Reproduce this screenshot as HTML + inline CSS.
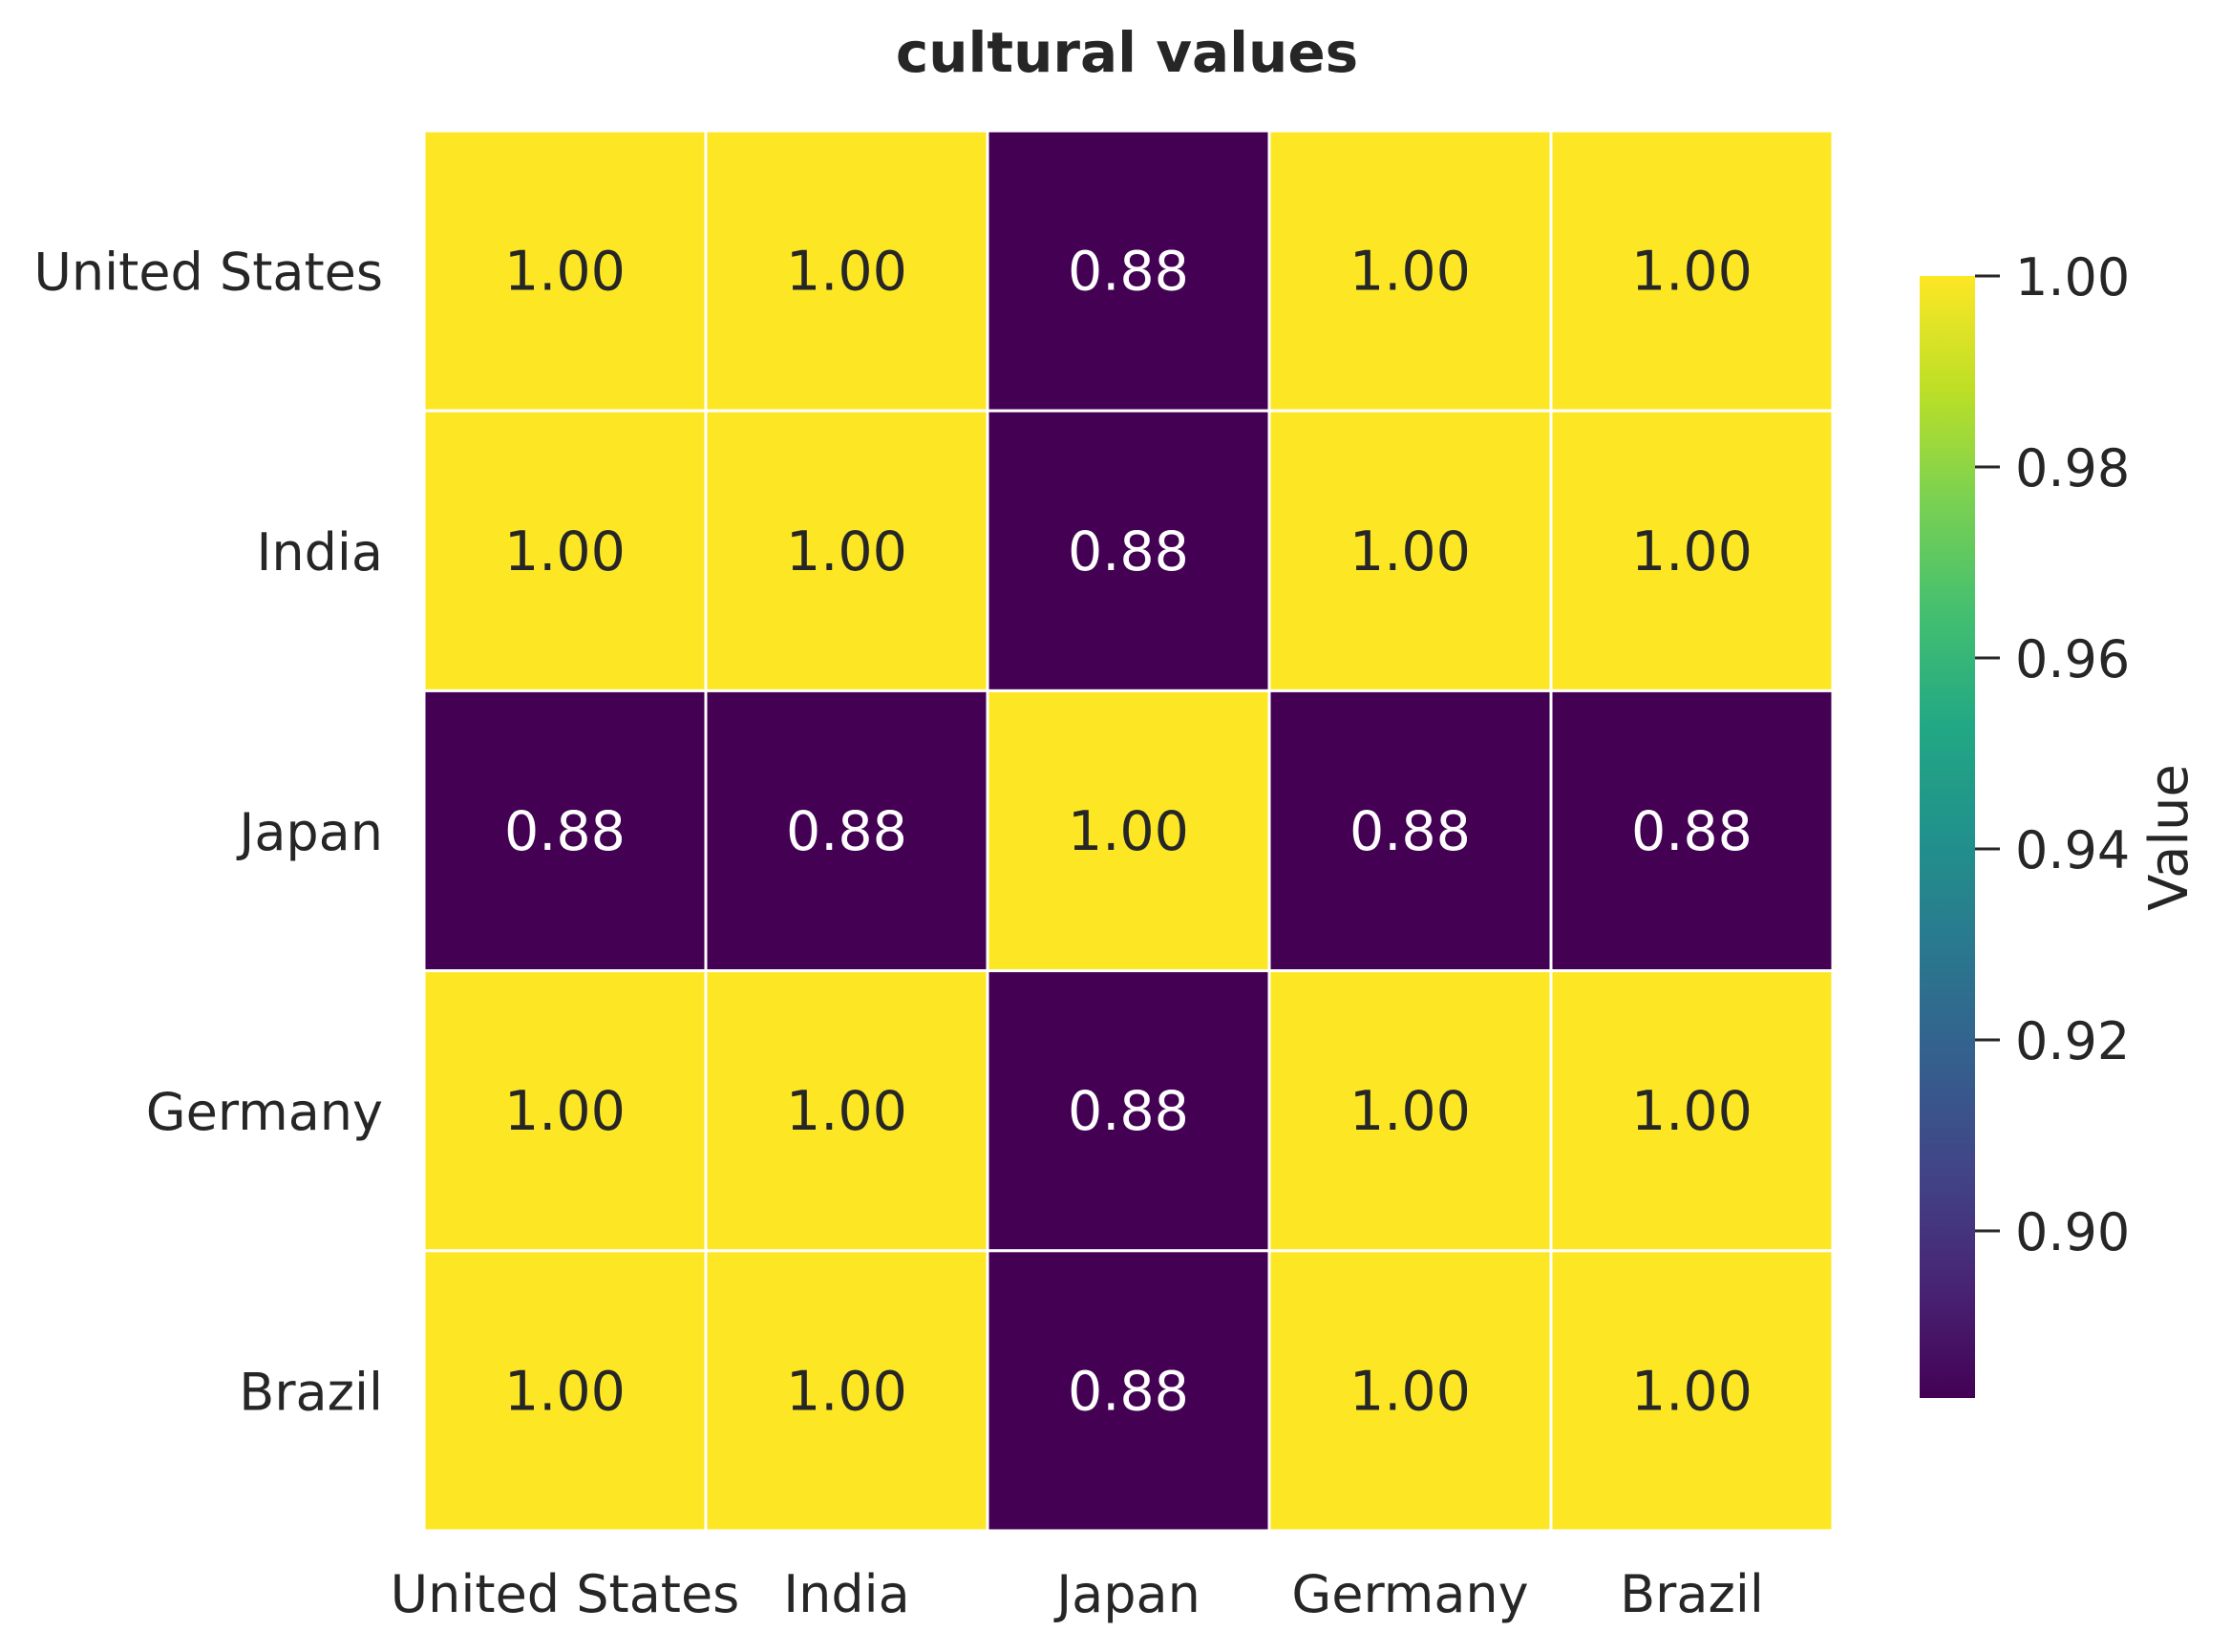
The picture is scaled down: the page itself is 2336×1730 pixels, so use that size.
<!DOCTYPE html>
<html><head><meta charset="utf-8">
<style>
html,body{margin:0;padding:0;background:#fff;}
svg{display:block;}
text{font-family:"DejaVu Sans","Liberation Sans",sans-serif;fill:#262626;}
</style></head>
<body>
<svg id="chart" width="2336" height="1730" viewBox="0 0 2336 1730" xmlns="http://www.w3.org/2000/svg">
<defs>
<linearGradient id="viridis" x1="0" y1="1" x2="0" y2="0">
<stop offset="0" stop-color="#440154"/>
<stop offset="0.1" stop-color="#482475"/>
<stop offset="0.2" stop-color="#414487"/>
<stop offset="0.3" stop-color="#355f8d"/>
<stop offset="0.4" stop-color="#2a788e"/>
<stop offset="0.5" stop-color="#21918c"/>
<stop offset="0.6" stop-color="#22a884"/>
<stop offset="0.7" stop-color="#44bf70"/>
<stop offset="0.8" stop-color="#7ad151"/>
<stop offset="0.9" stop-color="#bddf26"/>
<stop offset="1" stop-color="#fde725"/>
</linearGradient>
</defs>
<text x="1180" y="75" text-anchor="middle" font-size="58" font-weight="bold">cultural values</text>
<g id="cells"></g>
<g id="ylabels"></g>
<g id="xlabels"></g>
<rect x="2010" y="289" width="58" height="1175" fill="url(#viridis)"/>
<g id="cbticks"></g>
<text transform="translate(2290,877) rotate(-90)" text-anchor="middle" font-size="56">Value</text>
</svg>
<script>
const rowLabels = ["United States","India","Japan","Germany","Brazil"];
const colLabels = ["United States","India","Japan","Germany","Brazil"];
const row0 = [1.00,1.00,0.88,1.00,1.00];
const row1 = [1.00,1.00,0.88,1.00,1.00];
const row2 = [0.88,0.88,1.00,0.88,0.88];
const row3 = [1.00,1.00,0.88,1.00,1.00];
const row4 = [1.00,1.00,0.88,1.00,1.00];
const cbTicks = [1.00,0.98,0.96,0.94,0.92,0.90];
const vmin = 0.8825, vmax = 1.0;

const values = [row0,row1,row2,row3,row4];
const NS = "http://www.w3.org/2000/svg";
const gx0 = 444, gy0 = 137, cw = 295, ch = 293.2;
const cbTop = 289, cbBot = 1464;
function xPos(i){ return gx0 + i*cw; }
function yPos(i){ return gy0 + i*ch; }
function cbY(v){ return cbBot - (v - vmin)/(vmax - vmin)*(cbBot - cbTop); }
const stops = [[68,1,84],[72,36,117],[65,68,135],[53,95,141],[42,120,142],[33,145,140],[34,168,132],[68,191,112],[122,209,81],[189,223,38],[253,231,37]];
function color(v){
  let t = Math.max(0, Math.min(1, (v - vmin)/(vmax - vmin)));
  let p = t*10, i = Math.min(9, Math.floor(p)), f = p - i;
  const a = stops[i], b = stops[i+1];
  return "rgb(" + a.map((c,k)=>Math.round(c + (b[k]-c)*f)).join(",") + ")";
}
function mk(tag, attrs, parent){
  const e = document.createElementNS(NS, tag);
  for (const k in attrs) e.setAttribute(k, attrs[k]);
  parent.appendChild(e);
  return e;
}
const cells = document.getElementById("cells");
values.forEach((row, r) => {
  row.forEach((v, c) => {
    const rect = mk("rect", {x: xPos(c), y: yPos(r), width: cw, height: ch, fill: color(v), stroke: "#fff", "stroke-width": 3}, cells);
    
    
    const t = (v - vmin)/(vmax - vmin);
    const txt = mk("text", {x: xPos(c) + cw/2, y: yPos(r) + ch/2 + 20, "text-anchor": "middle", "font-size": 57}, cells);
    txt.style.fill = t > 0.5 ? "#262626" : "#ffffff";
    txt.textContent = v.toFixed(2);
    
    
  });
});
const yl = document.getElementById("ylabels");
rowLabels.forEach((l, r) => {
  const t = mk("text", {x: 401, y: yPos(r) + ch/2 + 20, "text-anchor": "end", "font-size": 54}, yl);
  t.textContent = l;
  
  
});
const xl = document.getElementById("xlabels");
colLabels.forEach((l, c) => {
  const t = mk("text", {x: xPos(c) + cw/2, y: 1688, "text-anchor": "middle", "font-size": 54}, xl);
  t.textContent = l;
  
  
});
const cb = document.getElementById("cbticks");
cbTicks.forEach(v => {
  const y = cbY(v);
  const ln = mk("line", {x1: 2068, x2: 2094, y1: y, y2: y, stroke: "#262626", "stroke-width": 3}, cb);
  
  
  const t = mk("text", {x: 2110, y: y + 20, "font-size": 54}, cb);
  t.textContent = v.toFixed(2);
  
  
});
</script>
</body></html>
